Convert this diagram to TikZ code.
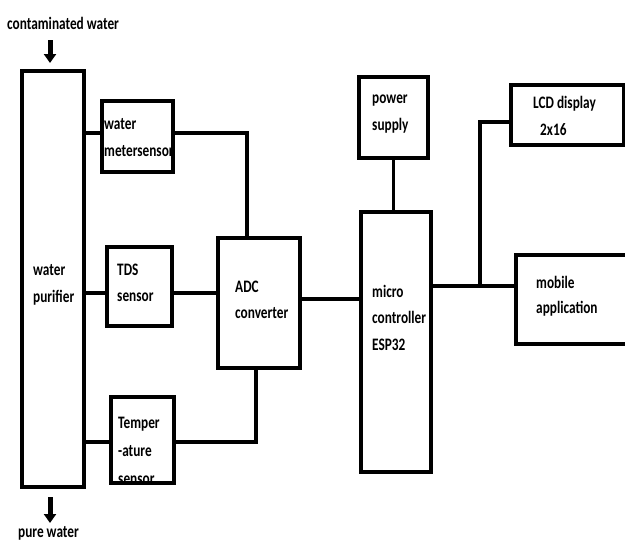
\documentclass[tikz,border=0pt]{standalone}
\usepackage{fontspec}
\setmainfont[FakeStretch=0.76]{Carlito}
\usetikzlibrary{arrows.meta}
\tikzset{
  box/.style={draw=black, line width=3.5pt, inner sep=0pt, rectangle},
  lbl/.style={anchor=base west, inner sep=0pt, font=\fontsize{17.5}{20}\selectfont\bfseries},
  wire/.style={draw=black, line width=3.5pt},
  flow/.style={draw=black, line width=5pt, -{Triangle[width=12pt,length=9pt]}}
}
\begin{document}
\begin{tikzpicture}[x=1pt,y=-1pt]
\clip (0,0) rectangle (625,542);
\fill[white] (0,0) rectangle (625,542);
% texts
\node[lbl] (t1) at (7,29) {contaminated water};
\node[lbl] (t2) at (18,537) {pure water};
\node[lbl] (pur1) at (33,275) {water};
\node[lbl] (pur2) at (33,302) {purifier};
\node[lbl] (wm1) at (104,129) {water};
\node[lbl] (wm2) at (104,156) {metersensor};
\node[lbl] (tds1) at (117,275) {TDS};
\node[lbl] (tds2) at (117,301) {sensor};
\node[lbl] (adc1) at (235,292) {ADC};
\node[lbl] (adc2) at (235,318) {converter};
\node[lbl] (mc1) at (372,297) {micro};
\node[lbl] (mc2) at (372,323) {controller};
\node[lbl] (mc3) at (372,350) {ESP32};
\node[lbl] (tp1) at (118,428) {Temper};
\node[lbl] (tp2) at (118,456) {-ature};
\node[lbl] (tp3) at (118,484) {sensor};
\node[lbl] (ps1) at (372,103) {power};
\node[lbl] (ps2) at (372,130) {supply};
\node[lbl] (lcd1) at (533,108) {LCD display};
\node[lbl] (lcd2) at (540,135) {2x16};
\node[lbl] (mob1) at (536,288) {mobile};
\node[lbl] (mob2) at (536,313) {application};
% boxes
\node[box, minimum width=62pt, minimum height=416pt] (pur) at (53,279) {};
\node[box, minimum width=71pt, minimum height=71pt] (wm) at (137.5,136.5) {};
\node[box, minimum width=65pt, minimum height=79pt] (tds) at (139.5,286.5) {};
\node[box, minimum width=82pt, minimum height=130pt] (adc) at (259,303) {};
\node[box, minimum width=63pt, minimum height=86pt] (temp) at (142.5,440) {};
\node[box, minimum width=69pt, minimum height=81pt] (ps) at (393.5,117.5) {};
\node[box, minimum width=70pt, minimum height=260pt] (mc) at (396,342) {};
\node[box, minimum width=113pt, minimum height=60pt] (lcd) at (567.5,115) {};
\node[box, minimum width=124pt, minimum height=89pt] (mob) at (578,299.5) {};
% coordinates
\coordinate (adcin) at (247,238);
\coordinate (adcb) at (256,368);
\coordinate (jn) at (480,286);
\coordinate (a1s) at (50,40);
\coordinate (a1e) at (50,63);
\coordinate (a2s) at (50,497);
\coordinate (a2e) at (50,523);
% arrows
\draw[flow] (a1s) -- (a1e);
\draw[flow] (a2s) -- (a2e);
% connectors
\draw[wire] (pur.east |- 0,133) -- (wm.west |- 0,133);
\draw[wire] (wm.east |- 0,133) -| (adcin);
\draw[wire] (pur.east |- 0,293) -- (tds.west |- 0,293);
\draw[wire] (tds.east |- 0,293) -- (adc.west |- 0,293);
\draw[wire] (pur.east |- 0,442) -- (temp.west |- 0,442);
\draw[wire] (temp.east |- 0,442) -| (adcb);
\draw[wire] (adc.east |- 0,299) -- (mc.west |- 0,299);
\draw[wire] (ps.south) -- (ps.south |- mc.north);
\draw[wire] (mc.east |- jn) -- (mob.west |- jn);
\draw[wire] (jn) |- (lcd.west |- 0,122);
\end{tikzpicture}
\end{document}
